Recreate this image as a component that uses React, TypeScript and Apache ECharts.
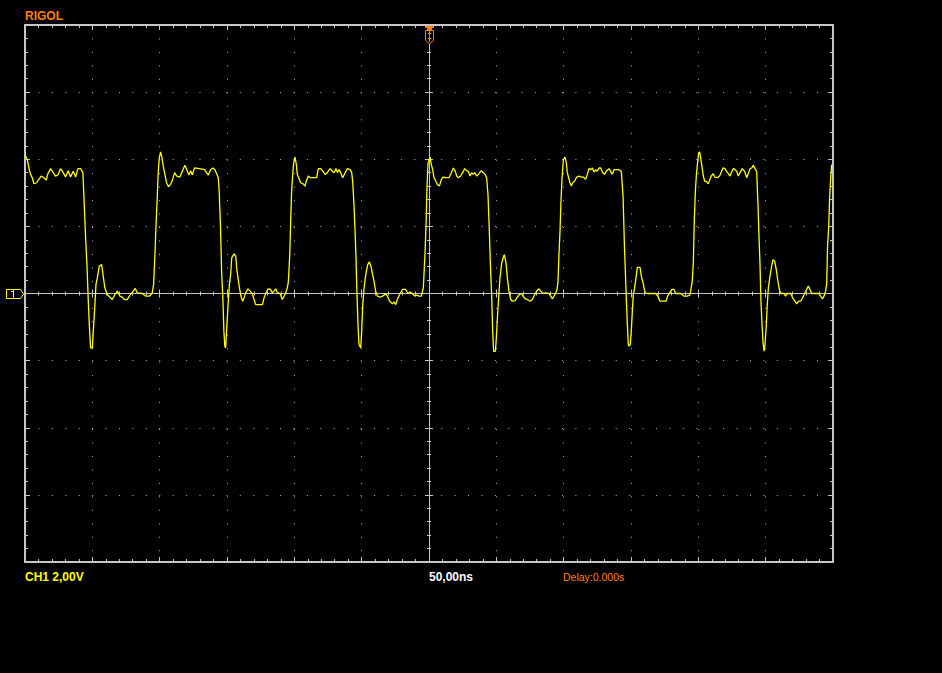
import React, { useEffect, useRef } from "react";
import * as echarts from "echarts";

// Screen scales (12 x 8 divisions)
const timeMinNs = -300;
const timeMaxNs = 300;
const timePerDivNs = 50;
const voltMin = -8;
const voltMax = 8;
const voltsPerDiv = 2;

// Readout texts
const brandText = "RIGOL";
const ch1ScaleText = "CH1 2,00V";
const timebaseText = "50,00ns";
const delayText = "Delay:0.000s";

// CH1 trace [time ns, volts]
const traceA: [number, number][] = [
  [-300.1, 4.14], [-298.3, 3.99], [-297.1, 3.74], [-295.9, 3.55], [-294.6, 3.45], [-293.4, 3.27], [-291.4, 3.3],
  [-289.7, 3.4], [-287.9, 3.5], [-286.0, 3.45], [-284.2, 3.38], [-283.0, 3.57], [-281.0, 3.72], [-279.0, 3.6],
  [-277.3, 3.5], [-275.6, 3.53], [-273.6, 3.72], [-271.6, 3.6], [-269.9, 3.47], [-267.9, 3.66], [-266.2, 3.47],
  [-264.2, 3.64], [-262.4, 3.47], [-260.7, 3.72], [-258.7, 3.72], [-257.0, 3.6], [-256.0, 2.65], [-255.0, 1.66],
  [-254.0, 0.86], [-253.0, -0.23], [-252.0, -1.13], [-251.3, -1.62], [-250.0, -1.62], [-249.3, -1.13],
  [-248.3, -0.48], [-247.3, 0.27], [-246.3, 0.46], [-244.9, 0.81], [-243.1, 0.86], [-241.9, 0.51], [-240.7, 0.17],
  [-238.9, -0.03], [-236.9, -0.11], [-235.2, -0.18], [-233.2, -0.03], [-231.5, 0.07], [-229.5, -0.08],
  [-227.8, -0.11], [-226.1, -0.18], [-224.1, -0.18], [-222.1, -0.05], [-220.1, 0.05], [-218.1, 0.15],
  [-216.7, 0.02], [-213.0, 0], [-210.2, -0.08], [-207.5, -0.08], [-205.5, 0.02], [-204.5, 0.27], [-203.5, 1.16],
  [-202.8, 1.95], [-201.8, 2.85], [-201.1, 3.6], [-200.3, 4.04], [-199.3, 4.22], [-198.3, 4.04], [-197.3, 3.79],
  [-196.1, 3.55], [-194.9, 3.3], [-193.4, 3.18], [-191.9, 3.25], [-190.4, 3.4], [-188.9, 3.6], [-187.4, 3.5],
  [-185.0, 3.47], [-183.0, 3.66], [-181.3, 3.82], [-179.5, 3.66], [-178.3, 3.53], [-177.0, 3.66], [-175.8, 3.53],
  [-174.1, 3.74], [-169.6, 3.71], [-166.6, 3.69], [-165.2, 3.6], [-163.9, 3.53], [-162.2, 3.69], [-160.5, 3.74],
  [-159.0, 3.69], [-157.5, 3.55], [-156.5, 3.45], [-155.8, 3.05], [-154.8, 1.95], [-154.0, 0.66], [-153.0, -0.23],
  [-152.3, -1.13], [-151.6, -1.57],
];

const traceB: [number, number][] = [
  [-151.0, -1.62], [-150.2, -1.03], [-149.2, -0.33], [-148.2, 0.27], [-147.3, 0.56], [-146.5, 1.06], [-144.8, 1.18],
  [-143.5, 1.11], [-142.8, 0.76], [-141.8, 0.46], [-140.8, 0.17], [-139.3, -0.13], [-138.3, -0.23], [-137.4, -0.13],
  [-136.1, 0.02], [-134.4, 0.14], [-132.9, 0.07], [-131.2, 0], [-129.9, -0.18], [-128.7, -0.33], [-126.2, -0.33],
  [-123.7, -0.33], [-122.5, -0.13], [-121.3, 0], [-119.5, 0.14], [-117.6, 0.12], [-116.3, 0.02], [-115.1, 0.07],
  [-113.8, 0.14], [-112.6, 0.02], [-110.6, 0], [-108.9, -0.18], [-107.6, -0.08], [-106.4, 0.02], [-105.2, 0.17],
  [-104.4, 0.36], [-103.4, 1.16], [-102.7, 2.15], [-102.0, 3.05], [-101.2, 3.55], [-100.5, 3.89], [-99.5, 4.06],
  [-98.5, 3.84], [-97.8, 3.55], [-96.8, 3.45], [-95.3, 3.3], [-93.5, 3.27], [-92.1, 3.2], [-91.1, 3.35],
  [-89.6, 3.5], [-88.3, 3.45], [-86.6, 3.45], [-84.9, 3.45], [-83.4, 3.45], [-82.2, 3.72], [-80.4, 3.72],
  [-78.7, 3.64], [-77.2, 3.55], [-75.5, 3.6], [-73.5, 3.72], [-71.8, 3.64], [-70.5, 3.6], [-69.0, 3.72],
  [-68.05, 3.6], [-66.8, 3.69], [-65.6, 3.6], [-64.1, 3.45], [-62.6, 3.57], [-60.6, 3.72], [-58.6, 3.69],
  [-57.4, 3.6], [-56.7, 3.35], [-55.7, 2.65], [-54.9, 1.86], [-54.2, 1.06], [-53.4, -0.13], [-52.7, -0.93],
  [-52.0, -1.52], [-50.7, -1.62], [-50.0, -1.13], [-49.2, -0.33], [-48.2, 0.17], [-47.3, 0.46], [-46.5, 0.66],
  [-45.5, 0.86], [-44.3, 0.94], [-43.1, 0.81], [-42.1, 0.61], [-40.8, 0.36], [-39.6, 0.07], [-38.3, -0.08],
  [-35.9, -0.11], [-33.4, -0.05], [-32.2, 0], [-30.9, -0.08], [-29.2, -0.23], [-27.2, -0.31], [-26.0, -0.25],
  [-24.7, -0.33], [-23.5, -0.18], [-21.8, -0.03], [-19.8, 0.12], [-17.3, 0.12], [-15.6, 0], [-14.1, 0.04],
  [-12.4, 0], [-10.6, -0.08], [-9.1, -0.05], [-7.4, -0.08], [-5.7, -0.08], [-4.2, 0.17], [-3.0, 1.16],
  [-2.2, 2.05], [-1.5, 3.15], [-0.7, 3.89],
];

const traceC: [number, number][] = [
  [-0.2, 3.94], [0.75, 4.06], [1.75, 3.84], [2.7, 3.69], [3.7, 3.45], [5.0, 3.35], [6.2, 3.25], [7.7, 3.2],
  [9.2, 3.4], [10.7, 3.47], [12.4, 3.45], [14.9, 3.45], [16.6, 3.6], [18.1, 3.74], [19.3, 3.66], [20.6, 3.5],
  [21.8, 3.45], [23.5, 3.5], [25.0, 3.6], [26.5, 3.72], [28.0, 3.66], [29.2, 3.64], [30.5, 3.5], [31.7, 3.6],
  [32.9, 3.55], [33.9, 3.6], [35.4, 3.5], [37.1, 3.57], [38.9, 3.66], [40.4, 3.6], [41.6, 3.55], [42.8, 3.45],
  [43.8, 2.95], [44.8, 1.86], [45.6, 0.86], [46.5, -0.03], [47.3, -1.13], [48.0, -1.72], [49.3, -1.72],
  [50.0, -1.33], [50.8, -0.73], [51.7, -0.13], [52.7, 0.46], [54.0, 0.91], [55.2, 1.08], [56.0, 1.16],
  [57.2, 0.91], [58.2, 0.46], [59.4, 0.07], [60.7, -0.18], [61.9, -0.23], [63.9, -0.21], [65.6, -0.11],
  [67.1, -0.03], [68.6, 0], [69.8, -0.08], [71.3, -0.15], [73.0, -0.18], [75.0, -0.23], [76.7, -0.18],
  [78.5, -0.03], [80.0, 0.07], [81.4, 0.14], [83.0, 0.07], [84.7, 0], [86.6, 0.02], [89.1, 0], [90.4, -0.08],
  [91.6, -0.16], [92.8, -0.08], [94.1, 0.02], [95.1, 0.12], [95.8, 0.36], [96.5, 1.16], [97.3, 1.86],
  [98.0, 2.75], [98.8, 3.45], [99.8, 3.99], [101.0, 4.06], [102.0, 3.89], [102.7, 3.6], [103.7, 3.45],
  [104.7, 3.3], [105.7, 3.2], [106.7, 3.3], [108.2, 3.35], [109.7, 3.47], [111.4, 3.5], [113.1, 3.47],
  [114.6, 3.47], [116.3, 3.4], [117.6, 3.55], [118.8, 3.72], [120.1, 3.69], [121.3, 3.74], [122.5, 3.62],
  [123.8, 3.69], [125.0, 3.64], [126.2, 3.74], [127.5, 3.74], [129.0, 3.6], [130.4, 3.55], [131.9, 3.66],
  [133.7, 3.72], [134.9, 3.64], [136.1, 3.55], [137.4, 3.69], [139.4, 3.69], [141.1, 3.69], [142.8, 3.64],
  [144.1, 2.9], [145.1, 1.46], [145.8, 0.66], [146.5, -0.13], [147.3, -0.93], [148.0, -1.52],
];

const traceD: [number, number][] = [
  [148.5, -1.57], [149.5, -1.52], [150.2, -1.13], [151.0, -0.53], [151.7, -0.03], [152.7, 0.17], [153.7, 0.46],
  [154.7, 0.78], [156.7, 0.78], [157.7, 0.51], [158.7, 0.36], [159.7, 0.17], [160.6, 0.02], [162.1, 0],
  [164.6, 0], [168.3, 0], [170.0, -0.08], [171.5, -0.23], [174.0, -0.23], [176.0, -0.23], [177.2, -0.08],
  [178.7, 0.02], [180.2, 0.12], [181.9, 0.12], [183.2, 0], [186.9, 0], [189.4, -0.08], [191.8, -0.08],
  [193.6, -0.05], [194.3, 0.07], [195.5, 0.36], [196.3, 0.96], [197.0, 2.15], [197.8, 3.05], [198.5, 3.5],
  [199.3, 3.84], [200.2, 4.19], [201.0, 4.22], [201.7, 4.04], [202.7, 3.79], [203.7, 3.5], [204.7, 3.35],
  [206.2, 3.33], [207.2, 3.27], [208.2, 3.35], [209.6, 3.5], [211.1, 3.57], [212.1, 3.47], [214.1, 3.45],
  [215.8, 3.5], [217.1, 3.62], [218.3, 3.74], [219.8, 3.72], [221.0, 3.64], [222.3, 3.57], [223.5, 3.5],
  [224.7, 3.62], [226.0, 3.72], [227.2, 3.69], [228.5, 3.64], [229.7, 3.5], [230.9, 3.6], [232.7, 3.72],
  [234.4, 3.64], [235.9, 3.45], [236.9, 3.55], [238.4, 3.72], [239.6, 3.74], [240.8, 3.82], [242.1, 3.72],
  [243.3, 3.64], [244.3, 2.65], [245.0, 1.76], [245.8, 0.86], [246.5, -0.23], [247.3, -0.93], [248.0, -1.42],
  [248.8, -1.72], [249.5, -1.52], [250.5, -0.93], [251.2, -0.33], [252.0, 0.17], [253.0, 0.46], [254.2, 0.76],
  [255.4, 1.01], [256.7, 0.96], [257.9, 0.71], [259.1, 0.36], [260.4, 0.07], [261.6, 0], [263.6, 0],
  [264.8, -0.08], [266.1, 0], [268.6, 0], [270.0, -0.13], [271.5, -0.21], [273.0, -0.31], [274.5, -0.23],
  [276.0, -0.23], [277.7, -0.11], [279.2, 0.02], [280.4, 0.12], [281.7, 0.22], [282.9, 0.12], [284.1, 0],
  [287.1, 0], [289.6, 0], [290.8, -0.08], [292.1, -0.16], [293.3, -0.08], [294.5, 0.07], [295.3, 0.27],
  [296.0, 1.46], [296.8, 1.95], [297.5, 2.85], [298.3, 3.45], [299.0, 3.84],
];

const ch1Trace = [...traceA, ...traceB, ...traceC, ...traceD];

export default function App() {
  const ref = useRef<HTMLDivElement>(null);

  useEffect(() => {
    if (!ref.current) return;
    const chart = echarts.init(ref.current, null, { renderer: "svg" });

    const frameColor = "#c6c6c6";
    const dotColor = "#b4b4b4";
    const orange = "#ff8000";
    const yellow = "#ffff00";
    const gridLeft = 25;
    const gridTop = 25;
    const gridWidth = 808;
    const gridHeight = 537;
    const xDot = gridWidth / ((timeMaxNs - timeMinNs) / timePerDivNs) / 5;
    const yDot = gridHeight / ((voltMax - voltMin) / voltsPerDiv) / 5;

    const xBase = {
      type: "value",
      min: timeMinNs,
      max: timeMaxNs,
      interval: timePerDivNs,
      axisLabel: { show: false },
      splitLine: { show: false },
    };
    const yBase = {
      type: "value",
      min: voltMin,
      max: voltMax,
      interval: voltsPerDiv,
      axisLabel: { show: false },
      splitLine: { show: false },
    };
    const frameAxis = {
      axisLine: { show: true, onZero: false, lineStyle: { color: frameColor, width: 2 } },
      axisTick: { show: true, inside: true, length: 5, lineStyle: { color: frameColor, width: 1 } },
      minorTick: { show: true, splitNumber: 5, length: 3, lineStyle: { color: frameColor, width: 1 } },
    };
    const centerAxis = (idx: number) => ({
      axisLine: { show: true, onZero: true, onZeroAxisIndex: idx, lineStyle: { color: frameColor, width: 1 } },
      axisTick: { show: true, inside: false, length: 4, lineStyle: { color: frameColor, width: 1 } },
      minorTick: { show: true, splitNumber: 5, length: 2, lineStyle: { color: frameColor, width: 1 } },
    });

    const font = (w: string, s: number) => `${w} ${s}px "Liberation Sans", Arial, sans-serif`;

    chart.setOption({
      animation: false,
      backgroundColor: "#000000",
      grid: {
        left: gridLeft,
        top: gridTop,
        width: gridWidth,
        height: gridHeight,
        containLabel: false,
        outerBoundsMode: "none",
        show: false,
      },
      xAxis: [
        {
          ...xBase,
          ...frameAxis,
          position: "bottom",
          splitLine: { show: true, lineStyle: { color: dotColor, width: 1, type: [1, xDot - 1] } },
        },
        { ...xBase, ...frameAxis, position: "top" },
        { ...xBase, ...centerAxis(0), position: "top" },
        { ...xBase, ...centerAxis(0), position: "bottom" },
      ],
      yAxis: [
        {
          ...yBase,
          ...frameAxis,
          position: "left",
          splitLine: { show: true, lineStyle: { color: dotColor, width: 1, type: [1, yDot - 1] } },
        },
        { ...yBase, ...frameAxis, position: "right" },
        { ...yBase, ...centerAxis(0), position: "right" },
        { ...yBase, ...centerAxis(0), position: "left" },
      ],
      series: [
        {
          name: "CH1",
          type: "line",
          xAxisIndex: 0,
          yAxisIndex: 0,
          data: ch1Trace,
          showSymbol: false,
          symbol: "none",
          clip: true,
          silent: true,
          z: 5,
          lineStyle: { color: yellow, width: 1.3 },
          itemStyle: { color: yellow },
        },
      ],
      graphic: [
        {
          type: "text",
          x: 25,
          y: 10,
          style: { text: brandText, fill: orange, font: font("bold", 12), verticalAlign: "top" },
        },
        {
          type: "text",
          x: 25,
          y: 571,
          style: { text: ch1ScaleText, fill: yellow, font: font("bold", 12), verticalAlign: "top" },
        },
        {
          type: "text",
          x: 429,
          y: 571,
          style: { text: timebaseText, fill: "#ffffff", font: font("bold", 12), verticalAlign: "top" },
        },
        {
          type: "text",
          x: 563,
          y: 571,
          style: { text: delayText, fill: orange, font: font("normal", 10.5), verticalAlign: "top" },
        },
        // trigger position marker
        { type: "rect", z: 10, shape: { x: 425, y: 26, width: 9, height: 2 }, style: { fill: orange } },
        { type: "rect", z: 10, shape: { x: 427, y: 28, width: 5, height: 2 }, style: { fill: orange } },
        {
          type: "polyline",
          z: 10,
          shape: {
            points: [
              [425.5, 30.5],
              [433.5, 30.5],
              [433.5, 40.5],
              [429.5, 44],
              [425.5, 40.5],
              [425.5, 30.5],
            ],
          },
          style: { stroke: orange, lineWidth: 1, fill: "#000000" },
        },
        { type: "line", z: 11, shape: { x1: 427.5, y1: 33.5, x2: 431.5, y2: 33.5 }, style: { stroke: orange, lineWidth: 1 } },
        { type: "line", z: 11, shape: { x1: 427.5, y1: 38.5, x2: 431.5, y2: 38.5 }, style: { stroke: orange, lineWidth: 1 } },
        { type: "line", z: 11, shape: { x1: 429.5, y1: 30.5, x2: 429.5, y2: 42 }, style: { stroke: orange, lineWidth: 1 } },
        // channel 1 ground marker
        {
          type: "polyline",
          z: 10,
          shape: {
            points: [
              [6.5, 289.5],
              [20.5, 289.5],
              [23.5, 294],
              [20.5, 298.5],
              [6.5, 298.5],
              [6.5, 289.5],
            ],
          },
          style: { stroke: yellow, lineWidth: 1, fill: "#000000" },
        },
        { type: "line", z: 11, shape: { x1: 13.5, y1: 290, x2: 13.5, y2: 298 }, style: { stroke: yellow, lineWidth: 1 } },
        { type: "line", z: 11, shape: { x1: 11, y1: 291.5, x2: 13.5, y2: 291.5 }, style: { stroke: yellow, lineWidth: 1 } },
      ],
    });

    return () => chart.dispose();
  }, []);

  return (
    <div
      ref={ref}
      style={{ position: "fixed", left: 0, top: 0, width: 942, height: 673, background: "#000000" }}
    />
  );
}
